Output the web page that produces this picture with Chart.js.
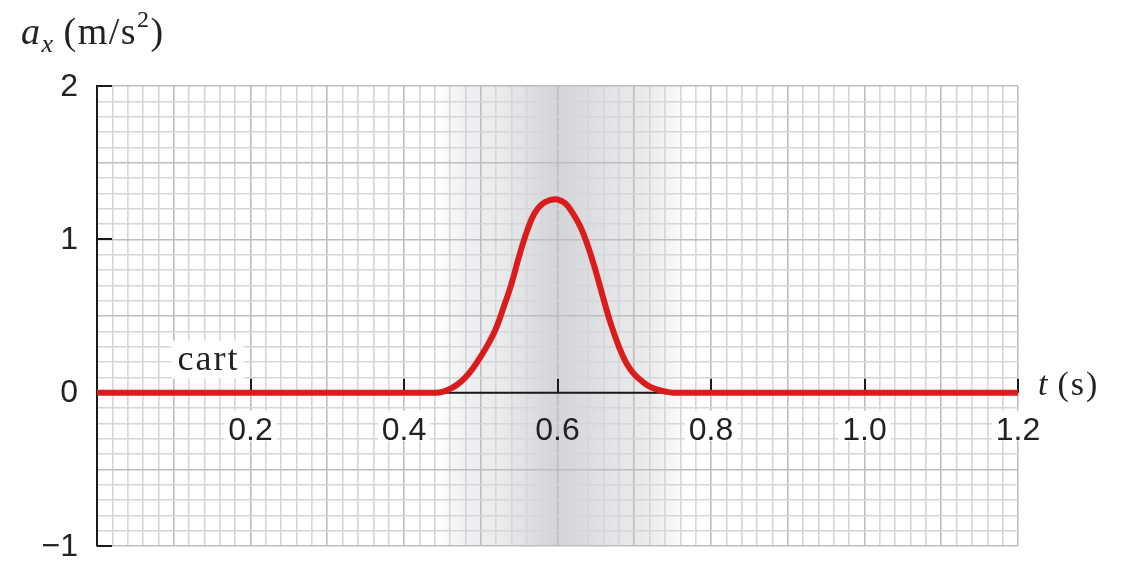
<!DOCTYPE html>
<html lang="en">
<head>
  <meta charset="UTF-8" />
  <title>Cart acceleration</title>
  <script src="https://cdn.jsdelivr.net/npm/chart.js@4.4.0/dist/chart.umd.min.js"></script>
  <style>
    body {
      margin: 0;
      background-color: #ffffff;
    }
    #wrap {
      width: 1134px;
      height: 568px;
      position: relative;
    }
  </style>
</head>
<body>
  <div id="wrap">
    <canvas id="accelChart"></canvas>
  </div>

  <script>
    // -------------------------------
    // DATA
    // -------------------------------
    const timeValues = [
      0, 0.44, 0.45, 0.46, 0.47, 0.48, 0.49, 0.5, 0.51, 0.52, 0.53, 0.54,
      0.55, 0.56, 0.57, 0.58, 0.59, 0.6, 0.61, 0.62, 0.63, 0.64, 0.65, 0.66,
      0.67, 0.68, 0.69, 0.7, 0.71, 0.72, 0.73, 0.74, 0.75, 1.2
    ];
    const accelValues = [
      0, 0, 0.005, 0.025, 0.055, 0.1, 0.16, 0.235, 0.32, 0.42, 0.56, 0.71,
      0.89, 1.05, 1.17, 1.23, 1.255, 1.26, 1.235, 1.17, 1.08, 0.95, 0.79, 0.61,
      0.44, 0.3, 0.19, 0.12, 0.075, 0.04, 0.02, 0.008, 0, 0
    ];
    const xTickLabels = [0.2, 0.4, 0.6, 0.8, 1.0, 1.2];
    const yTickLabels = [2, 1, 0, -1];
    const seriesLabel = "cart";
    const shadeRange = [0.445, 0.77];
    const shadeCenter = 0.6;

    const points = timeValues.map((t, i) => ({ x: t, y: accelValues[i] }));

    const SANS = "'Liberation Sans', Arial, sans-serif";
    const SERIF = "'Liberation Serif', 'Times New Roman', serif";

    function isMultiple(v, step) {
      const r = v / step;
      return Math.abs(r - Math.round(r)) < 1e-6;
    }

    // -------------------------------
    // PLUGINS
    // -------------------------------
    // gray band behind the grid around the collision
    const shadePlugin = {
      id: "shade",
      beforeDraw(chart) {
        const { ctx, chartArea, scales } = chart;
        const x0 = scales.x.getPixelForValue(shadeRange[0]);
        const x1 = scales.x.getPixelForValue(shadeRange[1]);
        const xc = scales.x.getPixelForValue(shadeCenter);
        const mid = (xc - x0) / (x1 - x0);
        const g = ctx.createLinearGradient(x0, 0, x1, 0);
        g.addColorStop(0, "rgba(211,213,216,0)");
        g.addColorStop(mid * 0.5, "#ebecee");
        g.addColorStop(mid, "#d2d4d7");
        g.addColorStop(mid + (1 - mid) * 0.5, "#e6e7e9");
        g.addColorStop(1, "rgba(211,213,216,0)");
        ctx.save();
        ctx.fillStyle = g;
        ctx.fillRect(x0, chartArea.top, x1 - x0, chartArea.bottom - chartArea.top);
        ctx.restore();
      },
    };

    // black t axis at a = 0, tick marks and labels
    const axesPlugin = {
      id: "axes",
      beforeDatasetsDraw(chart) {
        const { ctx, chartArea, scales } = chart;
        const y0 = scales.y.getPixelForValue(0);
        ctx.save();
        ctx.strokeStyle = "#1a1a1a";
        ctx.lineWidth = 2;
        ctx.beginPath();
        ctx.moveTo(chartArea.left, y0);
        ctx.lineTo(chartArea.right, y0);
        xTickLabels.forEach((v) => {
          const px = Math.round(scales.x.getPixelForValue(v));
          ctx.moveTo(px, y0);
          ctx.lineTo(px, y0 - 14);
        });
        yTickLabels.forEach((v) => {
          const py = Math.round(scales.y.getPixelForValue(v));
          ctx.moveTo(chartArea.left, py);
          ctx.lineTo(chartArea.left + 15, py);
        });
        ctx.stroke();

        // t tick labels
        ctx.font = "32px " + SANS;
        ctx.textAlign = "center";
        ctx.textBaseline = "alphabetic";
        xTickLabels.forEach((v) => {
          const px = scales.x.getPixelForValue(v);
          const txt = v.toFixed(1);
          const w = ctx.measureText(txt).width;
          if (v < shadeRange[0] || v > shadeRange[1]) {
            ctx.fillStyle = "#ffffff";
            ctx.fillRect(px - w / 2 - 4, y0 + 18, w + 8, 30);
          }
          ctx.fillStyle = "#222222";
          ctx.fillText(txt, px, y0 + 47);
        });

        // a tick labels
        ctx.textAlign = "right";
        ctx.textBaseline = "middle";
        yTickLabels.forEach((v) => {
          const py = scales.y.getPixelForValue(v);
          const txt = v < 0 ? "\u2212" + Math.abs(v) : String(v);
          ctx.fillText(txt, chartArea.left - 19, py + 1);
        });
        ctx.restore();
      },
      afterDatasetsDraw(chart) {
        const { ctx, scales } = chart;
        ctx.save();
        ctx.fillStyle = "#222222";
        ctx.textAlign = "left";

        // series label with white box
        ctx.font = "36px " + SERIF;
        ctx.letterSpacing = "2px";
        const lx = scales.x.getPixelForValue(0.105);
        const ly = scales.y.getPixelForValue(0.15);
        const lw = ctx.measureText(seriesLabel).width;
        ctx.fillStyle = "#ffffff";
        ctx.fillRect(lx - 6, ly - 29, lw + 10, 38);
        ctx.fillStyle = "#222222";
        ctx.fillText(seriesLabel, lx, ly);

        // vertical axis title: a_x (m/s^2)
        ctx.letterSpacing = "1.5px";
        let x = 21;
        const base = 44;
        ctx.font = "italic 38px " + SERIF;
        ctx.fillText("a", x, base);
        x += ctx.measureText("a").width;
        ctx.font = "italic 26px " + SERIF;
        ctx.fillText("x", x, base + 8);
        x += ctx.measureText("x").width + 9;
        ctx.font = "38px " + SERIF;
        ctx.fillText("(m/s", x, base);
        x += ctx.measureText("(m/s").width;
        ctx.font = "24px " + SERIF;
        ctx.fillText("2", x, base - 17);
        x += ctx.measureText("2").width;
        ctx.font = "38px " + SERIF;
        ctx.fillText(")", x, base);

        // horizontal axis title: t (s)
        const y0 = scales.y.getPixelForValue(0);
        let tx = scales.x.getPixelForValue(1.2) + 20;
        ctx.letterSpacing = "2px";
        ctx.font = "italic 34px " + SERIF;
        ctx.fillText("t", tx, y0 + 2);
        tx += ctx.measureText("t").width + 8;
        ctx.font = "34px " + SERIF;
        ctx.fillText("(s)", tx, y0 + 2);
        ctx.restore();
      },
    };

    // -------------------------------
    // CHART
    // -------------------------------
    const ctx = document.getElementById("accelChart").getContext("2d");
    new Chart(ctx, {
      type: "line",
      data: {
        datasets: [
          {
            label: seriesLabel,
            data: points,
            borderColor: "#d91c1c",
            borderWidth: 6,
            pointRadius: 0,
            tension: 0.4,
            fill: false,
          },
        ],
      },
      options: {
        responsive: true,
        maintainAspectRatio: false,
        animation: false,
        layout: {
          padding: { left: 0, top: 86, right: 116, bottom: 22 },
        },
        plugins: {
          legend: { display: false },
          tooltip: { enabled: false },
        },
        scales: {
          x: {
            type: "linear",
            min: 0,
            max: 1.2,
            afterFit(scale) {
              scale.height = 0;
            },
            ticks: {
              display: false,
              stepSize: 0.02,
              autoSkip: false,
            },
            border: { display: false },
            grid: {
              drawTicks: false,
              lineWidth: 1.6,
              color: (c) =>
                isMultiple(c.tick.value, 0.1) ? "#bcbec0" : "#d4d6d8",
            },
          },
          y: {
            type: "linear",
            min: -1,
            max: 2,
            afterFit(scale) {
              scale.width = 97;
            },
            ticks: {
              display: false,
              stepSize: 0.1,
              autoSkip: false,
            },
            border: { display: true, color: "#1a1a1a", width: 2 },
            grid: {
              drawTicks: false,
              lineWidth: 1.6,
              color: (c) =>
                isMultiple(c.tick.value, 0.5) ? "#bcbec0" : "#d4d6d8",
            },
          },
        },
      },
      plugins: [shadePlugin, axesPlugin],
    });
  </script>
</body>
</html>
